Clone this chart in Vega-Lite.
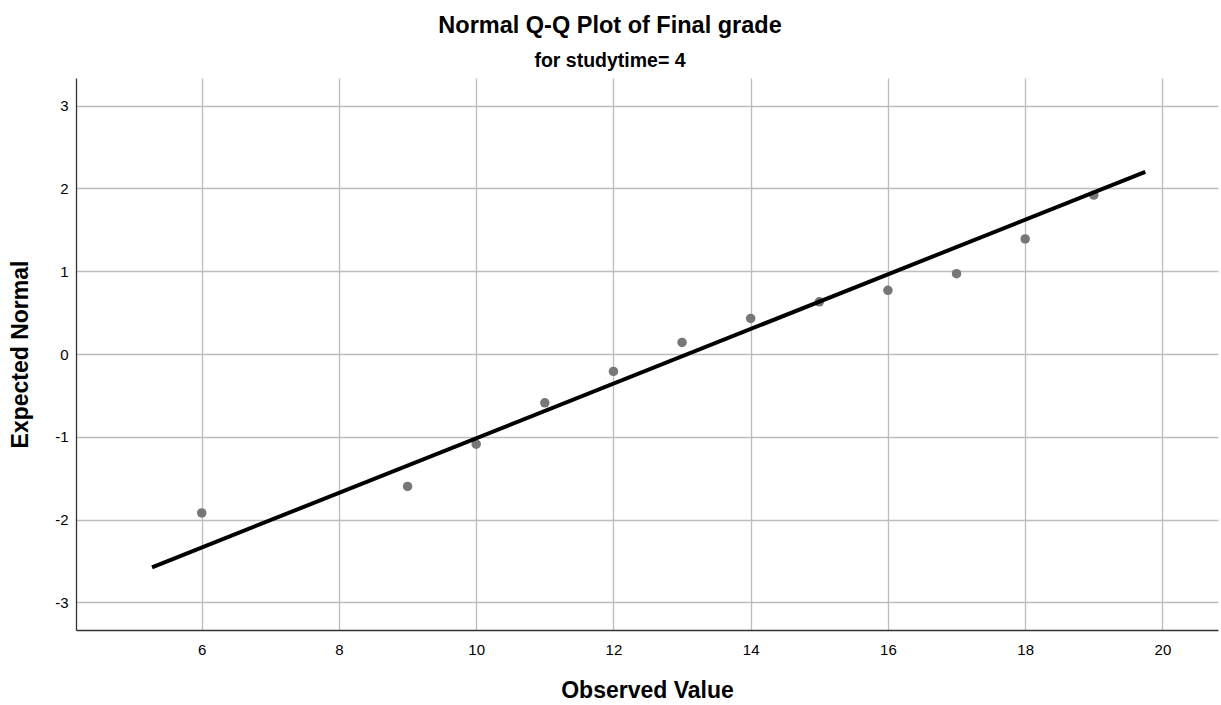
{
  "$schema": "https://vega.github.io/schema/vega-lite/v6.json",
  "autosize": {"type": "none"},
  "padding": {"left": 76, "top": 78, "right": 3, "bottom": 75},
  "width": 1142,
  "height": 552,
  "background": "white",
  "title": {
    "text": "Normal Q-Q Plot of Final grade",
    "subtitle": "for studytime= 4",
    "anchor": "middle",
    "frame": "group",
    "dx": -37,
    "font": "Liberation Sans",
    "fontSize": 23.5,
    "fontWeight": "bold",
    "color": "#000",
    "subtitleFont": "Liberation Sans",
    "subtitleFontSize": 19.5,
    "subtitleFontWeight": "bold",
    "subtitleColor": "#000",
    "subtitlePadding": 14,
    "offset": 8
  },
  "config": {
    "view": {"stroke": null},
    "axis": {
      "labelFont": "Liberation Sans",
      "labelFontSize": 15,
      "labelColor": "#000",
      "titleFont": "Liberation Sans",
      "titleFontSize": 23,
      "titleFontWeight": "bold",
      "titleColor": "#000",
      "ticks": false,
      "grid": true,
      "gridColor": "#bdbdbd",
      "gridWidth": 1.3,
      "domainColor": "#333",
      "domainWidth": 1.3,
      "labelExpr": "'' + datum.value"
    }
  },
  "datasets": {
    "pts": [
      {"observed": 6, "expected": -1.92},
      {"observed": 9, "expected": -1.6},
      {"observed": 10, "expected": -1.09},
      {"observed": 11, "expected": -0.59},
      {"observed": 12, "expected": -0.21},
      {"observed": 13, "expected": 0.14},
      {"observed": 14, "expected": 0.43},
      {"observed": 15, "expected": 0.63},
      {"observed": 16, "expected": 0.77},
      {"observed": 17, "expected": 0.97},
      {"observed": 18, "expected": 1.39},
      {"observed": 19, "expected": 1.92}
    ],
    "ref": [
      {"observed": 5.276, "expected": -2.577},
      {"observed": 19.75, "expected": 2.2}
    ]
  },
  "layer": [
    {
      "data": {"name": "pts"},
      "mark": {"type": "circle", "size": 90, "color": "#777777", "opacity": 1},
      "encoding": {
        "x": {
          "field": "observed", "type": "quantitative",
          "scale": {"domain": [4.168, 20.81], "nice": false, "zero": false},
          "axis": {"values": [6, 8, 10, 12, 14, 16, 18, 20], "title": "Observed Value", "labelPadding": 12, "titlePadding": 22}
        },
        "y": {
          "field": "expected", "type": "quantitative",
          "scale": {"domain": [-3.335, 3.335], "nice": false, "zero": false},
          "axis": {"values": [-3, -2, -1, 0, 1, 2, 3], "title": "Expected Normal", "labelPadding": 8, "titlePadding": 22}
        }
      }
    },
    {
      "data": {"name": "ref"},
      "mark": {"type": "line", "color": "#000", "strokeWidth": 4},
      "encoding": {
        "x": {"field": "observed", "type": "quantitative"},
        "y": {"field": "expected", "type": "quantitative"}
      }
    }
  ]
}
